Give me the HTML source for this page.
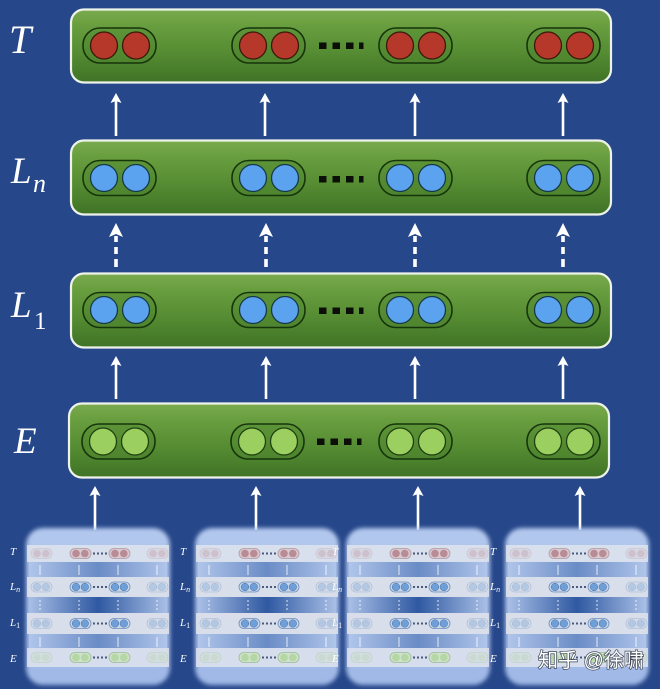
<!DOCTYPE html>
<html><head><meta charset="utf-8"><style>
html,body{margin:0;padding:0;background:#26478a;}
svg{display:block;}
</style></head><body>
<svg width="660" height="689" viewBox="0 0 660 689" xmlns="http://www.w3.org/2000/svg">
<defs>
  <linearGradient id="gbox" x1="0" y1="0" x2="0" y2="1">
    <stop offset="0" stop-color="#7aab4e"/>
    <stop offset="0.2" stop-color="#6a9f40"/>
    <stop offset="0.6" stop-color="#558b32"/>
    <stop offset="1" stop-color="#3f7326"/>
  </linearGradient>
  <linearGradient id="tbg" x1="0" y1="0" x2="0" y2="1">
    <stop offset="0" stop-color="#b3c8ee"/>
    <stop offset="1" stop-color="#9fb8e6"/>
  </linearGradient>
  <linearGradient id="gap1" x1="0" y1="0" x2="1" y2="0">
    <stop offset="0" stop-color="#b0c5ea"/>
    <stop offset="0.5" stop-color="#6a8cc6"/>
    <stop offset="1" stop-color="#b0c5ea"/>
  </linearGradient>
  <linearGradient id="gap2" x1="0" y1="0" x2="1" y2="0">
    <stop offset="0" stop-color="#a9bfe6"/>
    <stop offset="0.5" stop-color="#2f59a2"/>
    <stop offset="1" stop-color="#a9bfe6"/>
  </linearGradient>
  <filter id="soft" x="-10%" y="-10%" width="120%" height="120%"><feGaussianBlur stdDeviation="2"/></filter>

  <g id="pR">
    <rect x="0" y="-17.5" width="73" height="35" rx="17" fill="#4e862d" fill-opacity="0.35" stroke="#17350b" stroke-width="1.6"/>
    <circle cx="21" cy="0" r="13.5" fill="#b5382a" stroke="#3b1a0c" stroke-width="1.3"/>
    <circle cx="53" cy="0" r="13.5" fill="#b5382a" stroke="#3b1a0c" stroke-width="1.3"/>
  </g>
  <g id="pB">
    <rect x="0" y="-17.5" width="73" height="35" rx="17" fill="#4e862d" fill-opacity="0.35" stroke="#17350b" stroke-width="1.6"/>
    <circle cx="21" cy="0" r="13.5" fill="#5ba2ef" stroke="#173a4a" stroke-width="1.3"/>
    <circle cx="53" cy="0" r="13.5" fill="#5ba2ef" stroke="#173a4a" stroke-width="1.3"/>
  </g>
  <g id="pG">
    <rect x="0" y="-17.5" width="73" height="35" rx="17" fill="#4e862d" fill-opacity="0.35" stroke="#17350b" stroke-width="1.6"/>
    <circle cx="21" cy="0" r="13.5" fill="#9bcf60" stroke="#1f4010" stroke-width="1.3"/>
    <circle cx="53" cy="0" r="13.5" fill="#9bcf60" stroke="#1f4010" stroke-width="1.3"/>
  </g>
  <g id="dots" fill="#0b0f08">
    <rect x="319" y="-3" width="7.5" height="6.5"/>
    <rect x="332.5" y="-3" width="7.5" height="6.5"/>
    <rect x="346" y="-3" width="7.5" height="6.5"/>
    <rect x="359" y="-3" width="4.5" height="6.5"/>
  </g>
  <g id="arr">
    <line x1="0" y1="6" x2="0" y2="43" stroke="#ffffff" stroke-width="2.6"/>
    <polygon points="0,0 -5.5,10 0,8 5.5,10" fill="#ffffff"/>
  </g>
  <g id="darr" fill="#ffffff">
    <polygon points="0,0 -7,14 0,11 7,14"/>
    <rect x="-1.8" y="13" width="3.6" height="6"/>
    <rect x="-1.8" y="24" width="3.6" height="7"/>
    <rect x="-1.8" y="36" width="3.6" height="8"/>
  </g>

  <g id="sR"><rect x="0" y="-5" width="21" height="10" rx="5" fill="#d7c9cf" stroke="#b49aa3" stroke-width="0.8"/><circle cx="6" cy="0" r="3.8" fill="#b98b94"/><circle cx="14.8" cy="0" r="3.8" fill="#b98b94"/></g>
  <g id="sB"><rect x="0" y="-5" width="21" height="10" rx="5" fill="#c8d6ea" stroke="#6d8fbf" stroke-width="0.8"/><circle cx="6" cy="0" r="3.8" fill="#6f9fd8" stroke="#4d6f9c" stroke-width="0.5"/><circle cx="14.8" cy="0" r="3.8" fill="#6f9fd8" stroke="#4d6f9c" stroke-width="0.5"/></g>
  <g id="sG"><rect x="0" y="-5" width="21" height="10" rx="5" fill="#cfe0cc" stroke="#9bbf92" stroke-width="0.8"/><circle cx="6" cy="0" r="3.8" fill="#b5d7a4"/><circle cx="14.8" cy="0" r="3.8" fill="#b5d7a4"/></g>
  <g id="sd" fill="#4a5a7a">
    <rect x="67" y="-1" width="2" height="2"/><rect x="71" y="-1" width="2" height="2"/><rect x="75" y="-1" width="2" height="2"/><rect x="79" y="-1" width="2" height="2"/>
  </g>

  <g id="thumb">
    <rect x="0" y="0" width="144" height="157" rx="17" fill="url(#tbg)" filter="url(#soft)"/>
    <rect x="1" y="17" width="142" height="17" fill="#dfe3ec" fill-opacity="0.85"/>
    <rect x="3" y="34" width="138" height="15" fill="url(#gap1)"/>
    <rect x="1" y="49" width="142" height="20" fill="#dfe2e9" fill-opacity="0.88"/>
    <rect x="3" y="69" width="138" height="16" fill="url(#gap2)"/>
    <rect x="1" y="85" width="142" height="21" fill="#dfe2e9" fill-opacity="0.88"/>
    <rect x="3" y="106" width="138" height="14" fill="url(#gap1)"/>
    <rect x="1" y="120" width="142" height="19" fill="#dfe3ec" fill-opacity="0.85"/>
    <use href="#sR" x="5" y="25.5" opacity="0.35"/><use href="#sR" x="44" y="25.5"/><use href="#sd" x="0" y="25.5"/><use href="#sR" x="83" y="25.5"/><use href="#sR" x="121" y="25.5" opacity="0.35"/>
    <use href="#sB" x="5" y="59" opacity="0.35"/><use href="#sB" x="44" y="59"/><use href="#sd" x="0" y="59"/><use href="#sB" x="83" y="59"/><use href="#sB" x="121" y="59" opacity="0.35"/>
    <use href="#sB" x="5" y="95.5" opacity="0.35"/><use href="#sB" x="44" y="95.5"/><use href="#sd" x="0" y="95.5"/><use href="#sB" x="83" y="95.5"/><use href="#sB" x="121" y="95.5" opacity="0.35"/>
    <use href="#sG" x="5" y="129.5" opacity="0.35"/><use href="#sG" x="44" y="129.5"/><use href="#sd" x="0" y="129.5"/><use href="#sG" x="83" y="129.5"/><use href="#sG" x="121" y="129.5" opacity="0.35"/>
    <g stroke="#ffffff" stroke-width="1" stroke-opacity="0.8">
      <line x1="14" y1="37" x2="14" y2="47"/><line x1="53" y1="37" x2="53" y2="47"/><line x1="92" y1="37" x2="92" y2="47"/><line x1="131" y1="37" x2="131" y2="47"/>
      <line x1="14" y1="109" x2="14" y2="119"/><line x1="53" y1="109" x2="53" y2="119"/><line x1="92" y1="109" x2="92" y2="119"/><line x1="131" y1="109" x2="131" y2="119"/>
      <g stroke-dasharray="2 2">
      <line x1="14" y1="72" x2="14" y2="84"/><line x1="53" y1="72" x2="53" y2="84"/><line x1="92" y1="72" x2="92" y2="84"/><line x1="131" y1="72" x2="131" y2="84"/>
      </g>
    </g>
  </g>

  <g id="tlab" fill="#ffffff" font-family="Liberation Serif, serif" font-style="italic" font-size="11">
    <text x="0" y="27">T</text>
    <text x="0" y="62">L<tspan font-size="8" dy="2">n</tspan></text>
    <text x="0" y="98">L<tspan font-size="8" dy="2" font-style="normal">1</tspan></text>
    <text x="0" y="134">E</text>
  </g>
</defs>

<rect width="660" height="689" fill="#26478a"/>

<g fill="#ffffff" font-family="Liberation Serif, serif" font-style="italic">
  <text x="9" y="53" font-size="40">T</text>
  <text x="11" y="183" font-size="37">L</text><text x="33" y="192" font-size="26">n</text>
  <text x="11" y="317" font-size="37">L</text><text x="34" y="329" font-size="25" font-style="normal">1</text>
  <text x="14" y="453" font-size="37">E</text>
</g>

<rect x="71" y="9.5" width="540" height="73" rx="13" fill="url(#gbox)" stroke="#eef3ea" stroke-width="2.2"/>
<rect x="71" y="140.5" width="540" height="74" rx="13" fill="url(#gbox)" stroke="#eef3ea" stroke-width="2.2"/>
<rect x="71" y="273.5" width="540" height="74" rx="13" fill="url(#gbox)" stroke="#eef3ea" stroke-width="2.2"/>
<rect x="69" y="403.5" width="540" height="74" rx="13" fill="url(#gbox)" stroke="#eef3ea" stroke-width="2.2"/>

<use href="#pR" x="83" y="45.5"/><use href="#pR" x="232" y="45.5"/><use href="#pR" x="379" y="45.5"/><use href="#pR" x="527" y="45.5"/>
<use href="#dots" x="0" y="45.5"/>
<use href="#pB" x="83" y="178"/><use href="#pB" x="232" y="178"/><use href="#pB" x="379" y="178"/><use href="#pB" x="527" y="178"/>
<use href="#dots" x="0" y="179"/>
<use href="#pB" x="83" y="310"/><use href="#pB" x="232" y="310"/><use href="#pB" x="379" y="310"/><use href="#pB" x="527" y="310"/>
<use href="#dots" x="0" y="310.5"/>
<use href="#pG" x="82" y="441.5"/><use href="#pG" x="231" y="441.5"/><use href="#pG" x="379" y="441.5"/><use href="#pG" x="527" y="441.5"/>
<use href="#dots" x="-2" y="441.5"/>

<use href="#arr" x="116" y="93"/><use href="#arr" x="265" y="93"/><use href="#arr" x="415" y="93"/><use href="#arr" x="563" y="93"/>
<use href="#darr" x="116" y="223"/><use href="#darr" x="266" y="223"/><use href="#darr" x="415" y="223"/><use href="#darr" x="563" y="223"/>
<use href="#arr" x="116" y="356"/><use href="#arr" x="266" y="356"/><use href="#arr" x="415" y="356"/><use href="#arr" x="563" y="356"/>
<g>
  <line x1="95" y1="493" x2="95" y2="530" stroke="#fff" stroke-width="2.6"/><polygon points="95,486 89.5,496 95,494 100.5,496" fill="#fff"/>
  <line x1="256" y1="493" x2="256" y2="530" stroke="#fff" stroke-width="2.6"/><polygon points="256,486 250.5,496 256,494 261.5,496" fill="#fff"/>
  <line x1="418" y1="493" x2="418" y2="530" stroke="#fff" stroke-width="2.6"/><polygon points="418,486 412.5,496 418,494 423.5,496" fill="#fff"/>
  <line x1="580" y1="493" x2="580" y2="530" stroke="#fff" stroke-width="2.6"/><polygon points="580,486 574.5,496 580,494 585.5,496" fill="#fff"/>
</g>

<use href="#thumb" x="26" y="528"/>
<use href="#thumb" x="195" y="528"/>
<use href="#thumb" x="346" y="528"/>
<use href="#thumb" x="505" y="528"/>
<use href="#tlab" x="10" y="528"/>
<use href="#tlab" x="180" y="528"/>
<use href="#tlab" x="332" y="528"/>
<use href="#tlab" x="490" y="528"/>

<text x="538" y="667" font-family="Liberation Sans, Noto Sans CJK SC, sans-serif" font-size="20" fill="#ffffff" stroke="#3e4658" stroke-width="1.4" paint-order="stroke">知乎 @徐啸</text>
</svg>
</body></html>
